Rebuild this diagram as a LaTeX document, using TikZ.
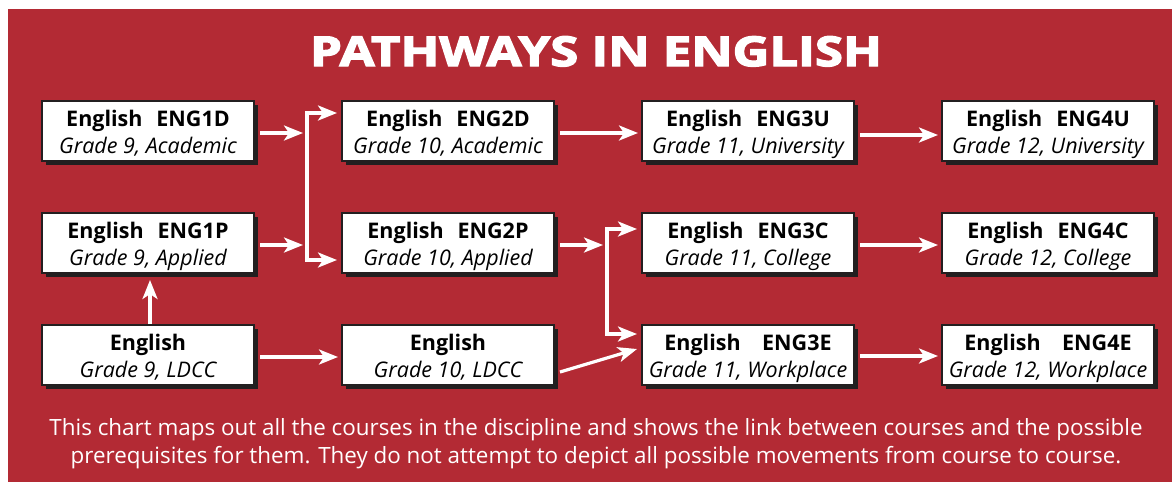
\documentclass[tikz,border=0pt]{standalone}
\usepackage{fontspec}
\setmainfont{Open Sans}
\newfontfamily\titlefont[FakeBold=3.5,FakeStretch=1.24]{Open Sans}
\usetikzlibrary{arrows.meta,shadows}
\definecolor{bgred}{RGB}{179,42,52}
\definecolor{ink}{RGB}{35,31,32}
\newcommand\crs[2]{\textbf{\rule{0pt}{23pt}#1}\\\textit{#2\rule[-6pt]{0pt}{6pt}}}
\begin{document}
\begin{tikzpicture}[x=1pt,y=-1pt,
  wtip/.tip={Stealth[length=19pt,width=15pt,inset=5pt]},
  course/.style={draw=ink, line width=2pt, fill=white, minimum width=212pt,
    minimum height=60pt, inner sep=0pt, align=center,
    font=\fontsize{21.5}{27}\selectfont,
    drop shadow={shadow xshift=4pt, shadow yshift=-4pt, opacity=1, fill=ink}},
  arr/.style={draw=white, line width=3.2pt, -wtip},
  arrboth/.style={draw=white, line width=3.2pt, wtip-wtip},
  caption/.style={text=white, anchor=base, inner sep=0pt, font=\fontsize{22.4}{28}\selectfont},
]
\useasboundingbox (0,0) rectangle (1172,482);
\fill[white] (0,0) rectangle (1172,482);
\fill[bgred] (8,9) rectangle (1172,482);

\node[text=white, anchor=base, inner sep=0pt, font=\titlefont\bfseries\fontsize{41}{41}\selectfont] (title) at (596,66) {PATHWAYS IN ENGLISH};

\node[course] (d1) at (148,131) {\crs{English\hspace{0.65em}ENG1D}{Grade 9, Academic}};
\node[course] (p1) at (148,243) {\crs{English\hspace{0.65em}ENG1P}{Grade 9, Applied}};
\node[course] (l1) at (148,355) {\crs{English}{Grade 9, LDCC}};
\node[course] (d2) at (448,131) {\crs{English\hspace{0.65em}ENG2D}{Grade 10, Academic}};
\node[course] (p2) at (448,243) {\crs{English\hspace{0.65em}ENG2P}{Grade 10, Applied}};
\node[course] (l2) at (448,355) {\crs{English}{Grade 10, LDCC}};
\node[course] (u3) at (748,131) {\crs{English\hspace{0.65em}ENG3U}{Grade 11, University}};
\node[course] (c3) at (748,243) {\crs{English\hspace{0.65em}ENG3C}{Grade 11, College}};
\node[course] (e3) at (748,355) {\crs{English\hspace{1.0em}ENG3E}{Grade 11, Workplace}};
\node[course] (u4) at (1048,131) {\crs{English\hspace{0.65em}ENG4U}{Grade 12, University}};
\node[course] (c4) at (1048,243) {\crs{English\hspace{0.65em}ENG4C}{Grade 12, College}};
\node[course] (e4) at (1048,355) {\crs{English\hspace{1.0em}ENG4E}{Grade 12, Workplace}};

\coordinate (b1t) at (307,113);
\coordinate (b1b) at (307,260);
\coordinate (b2t) at (607,229);
\coordinate (b2b) at (607,334);

% grade 9 -> grade 10
\draw[arr] ([xshift=5pt,yshift=-2pt]d1.east) -- ([xshift=-4pt,yshift=-2pt]d1.east -| b1t);
\draw[arr] ([xshift=5pt,yshift=-2pt]p1.east) -- ([xshift=-4pt,yshift=-2pt]p1.east -| b1t);
\draw[arrboth] ([xshift=-4pt]d2.west |- b1t) -- (b1t) -- (b1b) -- ([xshift=-4pt]p2.west |- b1b);
\draw[arr] ([xshift=5pt,yshift=-2pt]l1.east) -- ([xshift=-3pt,yshift=-2pt]l2.west);
\draw[arr] ([xshift=2pt]l1.north) -- ([xshift=2pt,yshift=-6pt]p1.south);

% grade 10 -> grade 11
\draw[arr] ([xshift=5pt,yshift=-2pt]d2.east) -- ([xshift=-3pt,yshift=-2pt]u3.west);
\draw[arr] ([xshift=5pt,yshift=-2pt]p2.east) -- ([xshift=-4pt,yshift=-2pt]p2.east -| b2t);
\draw[arrboth] ([xshift=-4pt]c3.west |- b2t) -- (b2t) -- (b2b) -- ([xshift=-4pt]e3.west |- b2b);
\draw[arr] ([xshift=5pt,yshift=-17pt]l2.east) -- ([xshift=-4pt,yshift=6pt]e3.west);

% grade 11 -> grade 12
\draw[arr] ([xshift=5pt,yshift=-4pt]u3.east) -- ([xshift=-3pt,yshift=-4pt]u4.west);
\draw[arr] ([xshift=5pt,yshift=-2pt]c3.east) -- ([xshift=-3pt,yshift=-2pt]c4.west);
\draw[arr] ([xshift=5pt,yshift=-1pt]e3.east) -- ([xshift=-3pt,yshift=-1pt]e4.west);

\node[caption] (cap1) at (596,435) {This chart maps out all the courses in the discipline and shows the link between courses and the possible};
\node[caption] (cap2) at (596,463) {prerequisites for them. They do not attempt to depict all possible movements from course to course.};
\end{tikzpicture}
\end{document}
